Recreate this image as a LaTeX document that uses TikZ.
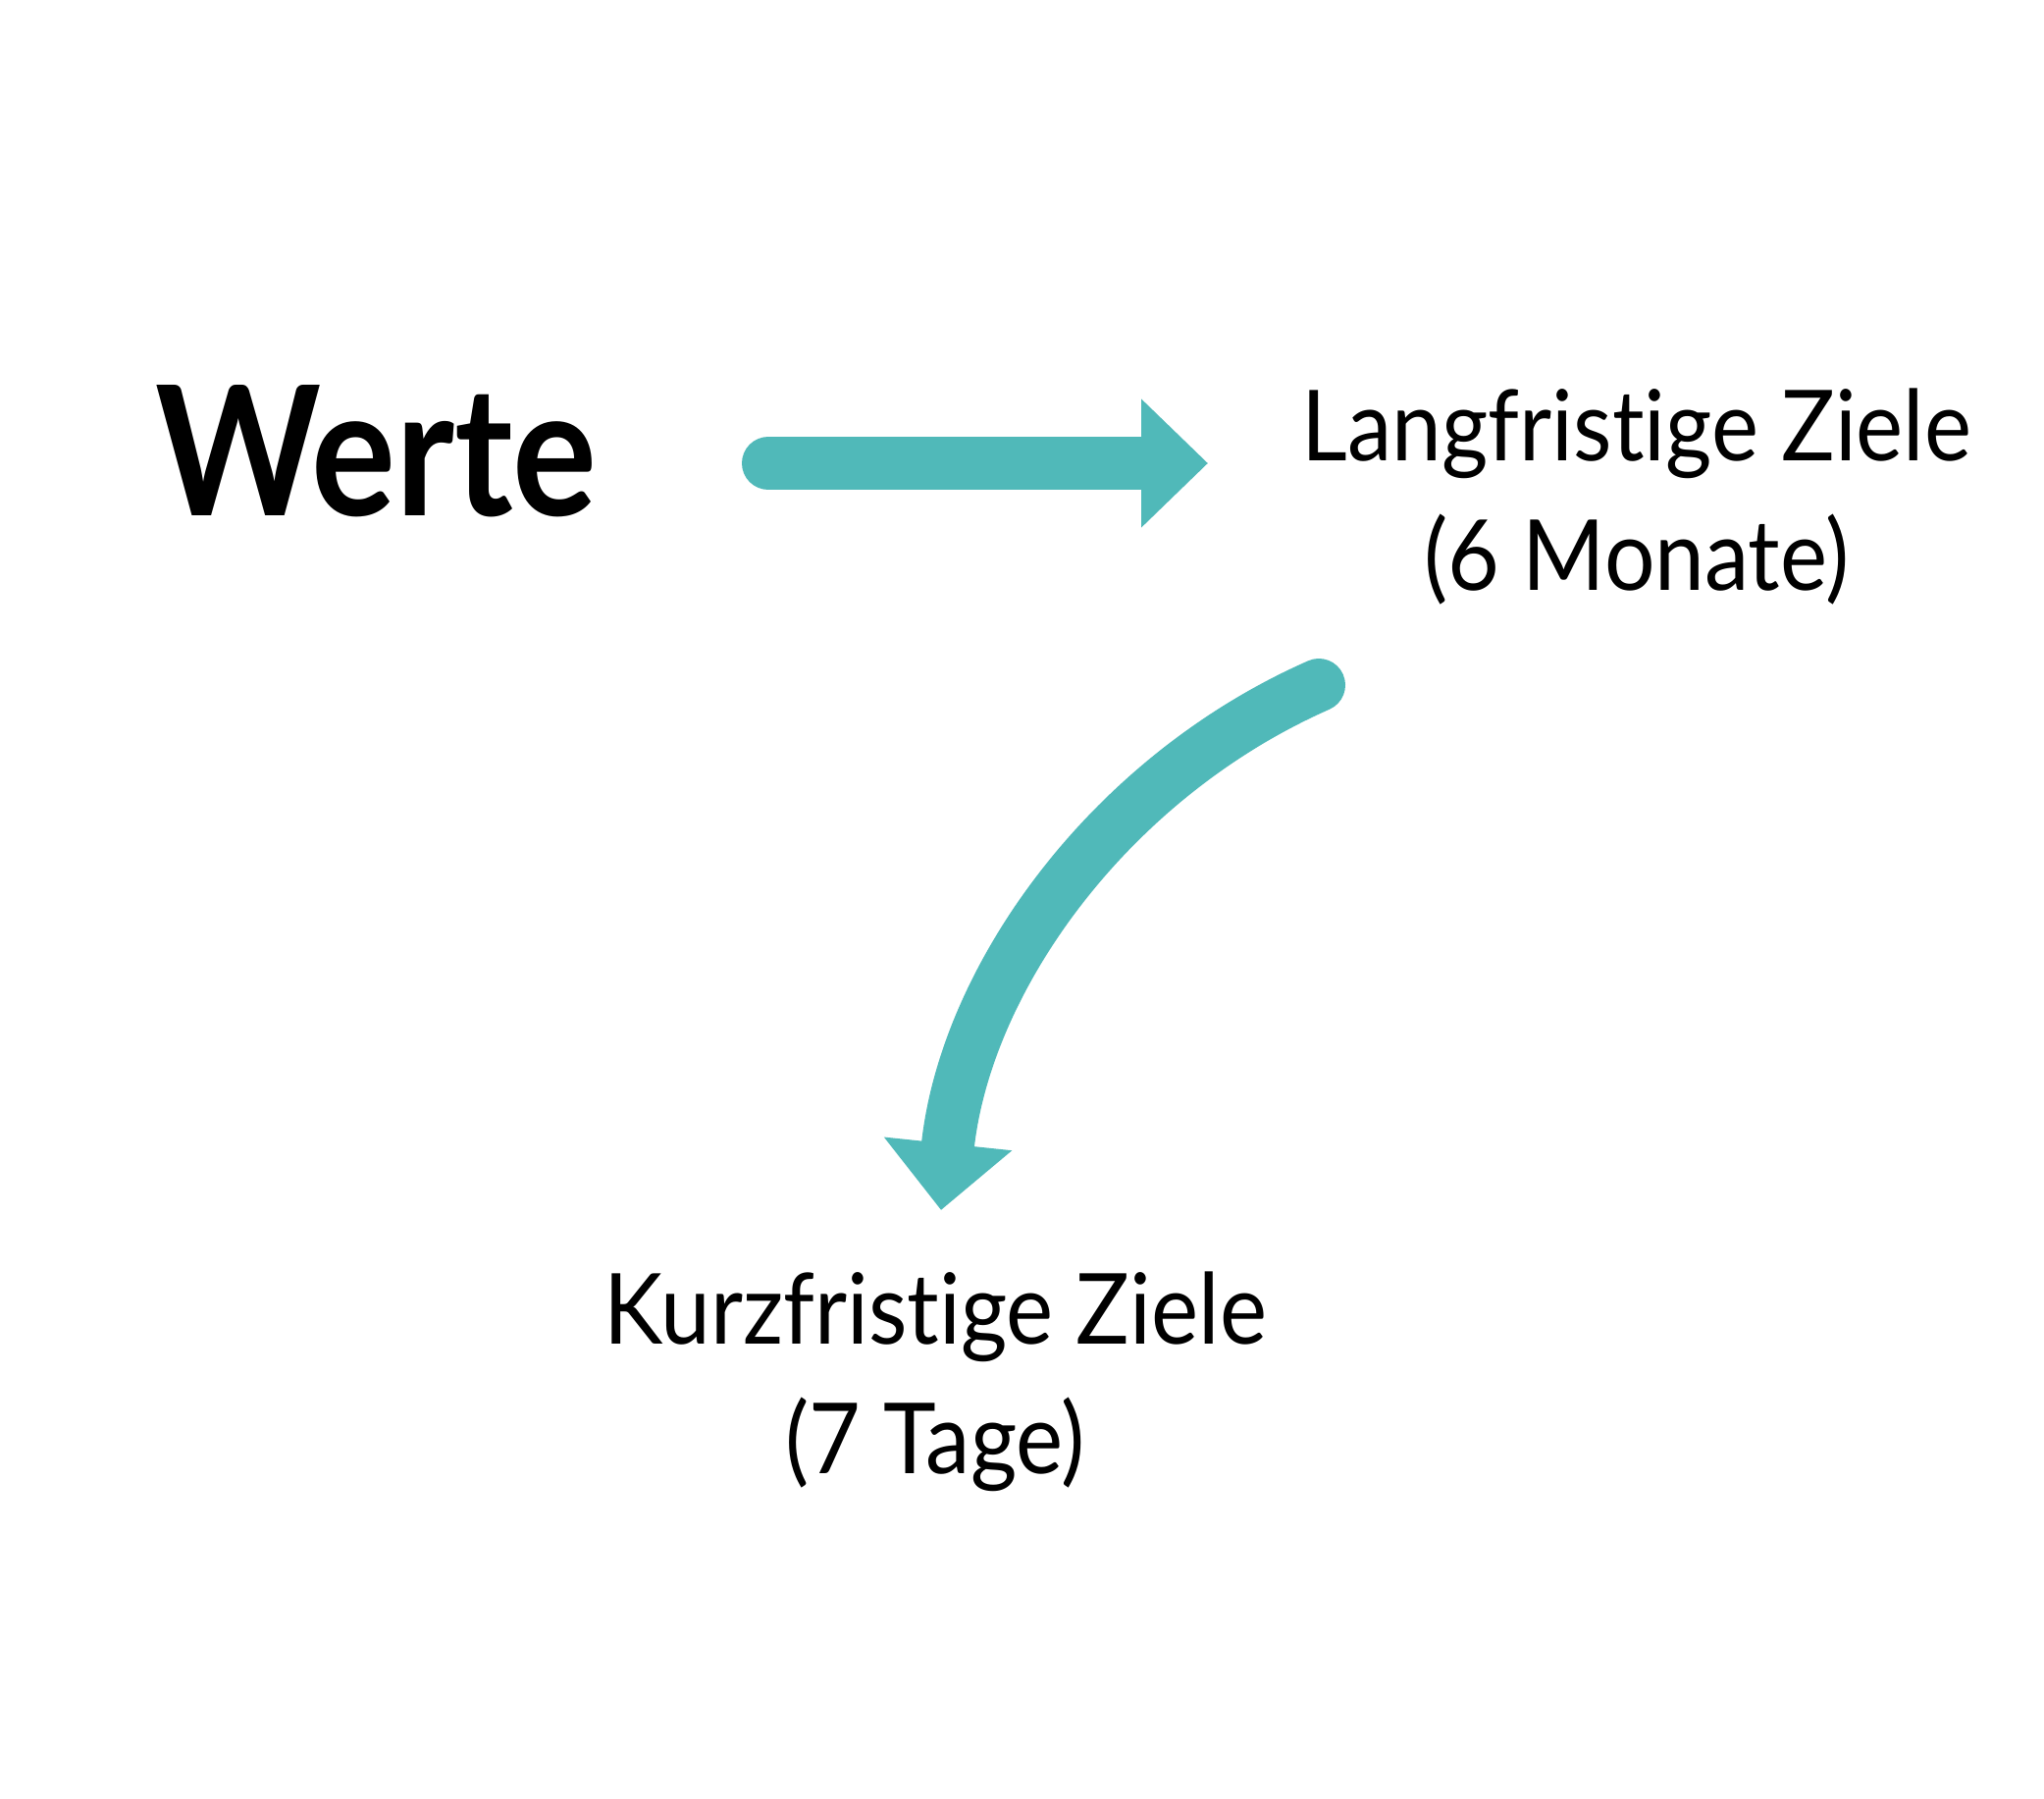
\documentclass[tikz,border=0pt]{standalone}
\usepackage{fontspec}
\setmainfont{Lato}[Ligatures=NoCommon]
\newfontfamily\labelfont{Lato}[FakeStretch=0.91, Ligatures=NoCommon]
\newfontfamily\bigfont{Lato}[FakeStretch=0.875, Ligatures=NoCommon]
\usetikzlibrary{arrows.meta}
\definecolor{tealc}{RGB}{80,185,185}
\tikzset{
  tealarrow/.style={draw=tealc, line width=27pt, line cap=round,
    -{Triangle[length=34pt,width=63.5pt]}},
  label/.style={inner sep=0pt, outer sep=0pt, text=black,
    font=\labelfont\fontsize{50}{66}\selectfont},
  bigword/.style={inner sep=0pt, outer sep=0pt, text=black,
    font=\bigfont\fontsize{92}{100}\selectfont\bfseries}
}
\begin{document}
\begin{tikzpicture}[x=0.5pt,y=-0.5pt]
\fill[white] (0,0) rectangle (2083,1832);
\useasboundingbox (0,0) rectangle (2083,1832);
\node[bigword, anchor=base west] (werte) at (158,525) {Werte};
\node[label, anchor=base] (lang) at (1668,469)
  {\begin{tabular}[t]{@{}c@{}}Langfristige Ziele\\(6 Monate)\end{tabular}};
\node[label, anchor=base] (kurz) at (953,1369)
  {\begin{tabular}[t]{@{}c@{}}Kurzfristige Ziele\\(7 Tage)\end{tabular}};
\coordinate (a1s) at (783,472);
\coordinate (a1e) at (1231,472);
\coordinate (a2s) at (1344,698);
\coordinate (a2e) at (959,1233);
\draw[tealarrow] (a1s) -- (a1e);
\draw[tealarrow] (a2s) .. controls (1128.5,793) and (983.5,998.7) .. (a2e);
\end{tikzpicture}
\end{document}
